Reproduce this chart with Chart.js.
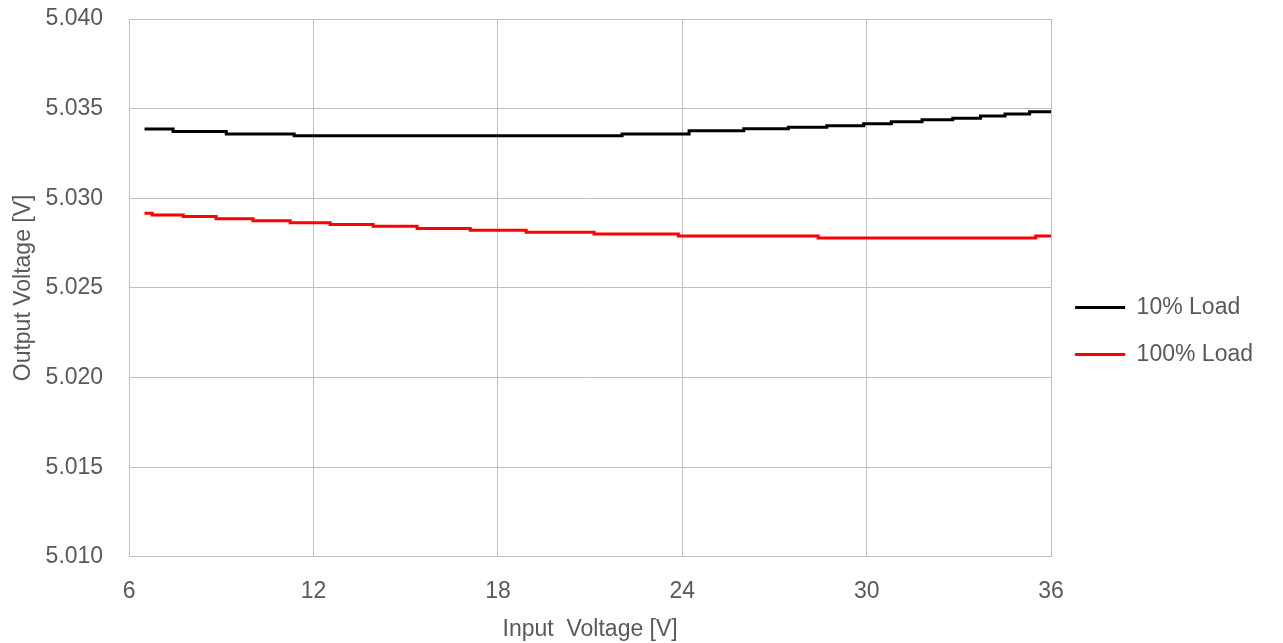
<!DOCTYPE html>
<html>
<head>
<meta charset="utf-8">
<script src="https://cdn.jsdelivr.net/npm/chart.js@4/dist/chart.umd.min.js"></script>
<style>
html,body{margin:0;padding:0;background:#fff;}
#wrap{width:1283px;height:643px;}
</style>
</head>
<body>
<div id="wrap"><canvas id="c"></canvas></div>
<script>
// step positions (input voltage, V) and output voltage
var vinLight = [6.5, 7.43, 9.16, 11.37, 22.04, 24.22, 26.0, 27.45, 28.7, 29.9, 30.8, 31.8, 32.8, 33.7, 34.5, 35.3, 36.0];
var voutLight = [5.03387, 5.03372, 5.03359, 5.03349, 5.03359, 5.03377, 5.03388, 5.03396, 5.03405, 5.03416, 5.03427, 5.03438, 5.03446, 5.03459, 5.0347, 5.03483, 5.03483];

var vinFull = [6.5, 6.75, 7.76, 8.83, 10.03, 11.24, 12.54, 13.94, 15.37, 17.1, 18.92, 21.13, 23.87, 28.42, 35.5, 36.0];
var voutFull = [5.02917, 5.02907, 5.02898, 5.02886, 5.02875, 5.02864, 5.02853, 5.02844, 5.02831, 5.02822, 5.02811, 5.028, 5.0279, 5.02779, 5.0279, 5.0279];

var seriesNames = ['10% Load', '100% Load'];
var xTicks = [6, 12, 18, 24, 30, 36];
var yTicks = [5.010, 5.015, 5.020, 5.025, 5.030, 5.035, 5.040];

function pts(xs, ys){
  var out = [];
  for (var i = 0; i < xs.length; i++){ out.push({x: xs[i], y: ys[i]}); }
  return out;
}

var txt = '#595959';
var grid = '#bfbfbf';
var fnt = {family: "'Liberation Sans', Arial, sans-serif", size: 23};

var data = {
  datasets: [{
    label: seriesNames[0],
    data: pts(vinLight, voutLight),
    borderColor: '#000000',
    backgroundColor: '#000000',
    borderWidth: 3,
    pointRadius: 0,
    stepped: true,
    fill: false
  },{
    label: seriesNames[1],
    data: pts(vinFull, voutFull),
    borderColor: '#ff0000',
    backgroundColor: '#ff0000',
    borderWidth: 3,
    pointRadius: 0,
    stepped: true,
    fill: false
  }]
};

var options = {
  responsive: false,
  animation: false,
  layout: {padding: {left: 4, right: 20, top: 19, bottom: 0}},
  plugins: {
    tooltip: {enabled: false},
    legend: {
      position: 'right',
      labels: {
        usePointStyle: true,
        pointStyle: 'line',
        pointStyleWidth: 50,
        boxHeight: 23,
        padding: 24,
        color: txt,
        font: fnt
      }
    }
  },
  scales: {
    x: {
      type: 'linear',
      min: 6, max: 36,
      afterBuildTicks: function(ax){ ax.ticks = xTicks.map(function(v){ return {value: v}; }); },
      grid: {color: grid, lineWidth: 1, drawTicks: true, tickLength: 17, tickColor: 'rgba(0,0,0,0)'},
      border: {color: grid},
      ticks: {color: txt, font: fnt, padding: 4, maxRotation: 0},
      title: {display: true, text: 'Input  Voltage [V]', color: txt, font: fnt, padding: {top: 6, bottom: 0}}
    },
    y: {
      min: 5.010, max: 5.040,
      afterBuildTicks: function(ax){ ax.ticks = yTicks.map(function(v){ return {value: v}; }); },
      grid: {color: grid, lineWidth: 1, drawTicks: true, tickLength: 22, tickColor: 'rgba(0,0,0,0)'},
      border: {color: grid},
      ticks: {color: txt, font: fnt, padding: 4, callback: function(v){ return Number(v).toFixed(3); }},
      title: {display: true, text: 'Output Voltage [V]', color: txt, font: fnt, padding: {top: 6, bottom: 4}}
    }
  }
};

var c = document.getElementById('c');
c.width = 1283; c.height = 643;
var chart = new Chart(c.getContext('2d'), {type: 'line', data: data, options: options});
</script>
</body>
</html>
